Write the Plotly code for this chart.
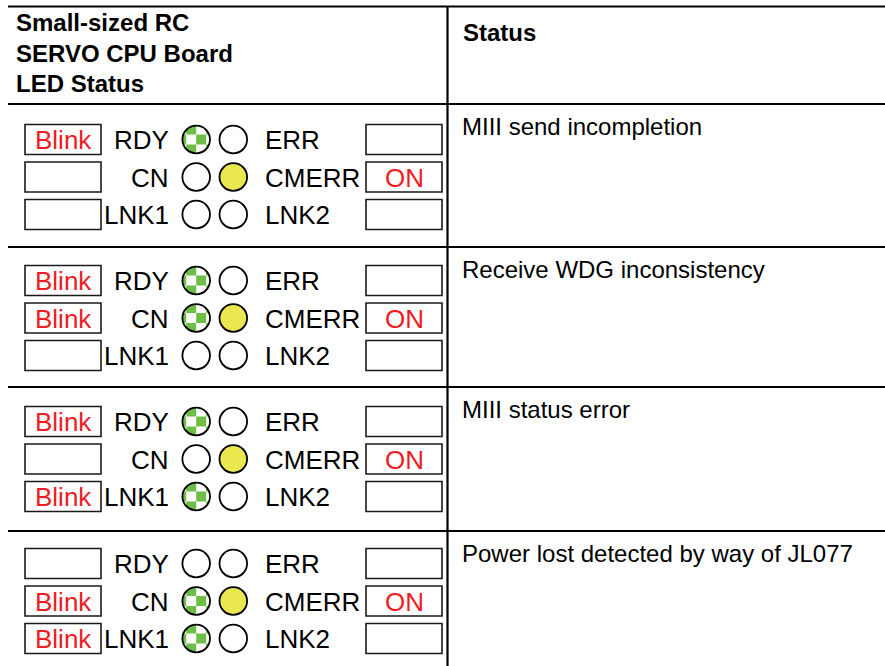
import math
import plotly.graph_objects as go

# ---------------- data ----------------
header_left = ["Small-sized RC", "SERVO CPU Board", "LED Status"]
header_right = "Status"
status_texts = [
    "MIII send incompletion",
    "Receive WDG inconsistency",
    "MIII status error",
    "Power lost detected by way of JL077",
]
left_labels = ["RDY", "CN", "LNK1"]
right_labels = ["ERR", "CMERR", "LNK2"]
left_states = [
    ["Blink", "", ""],
    ["Blink", "Blink", ""],
    ["Blink", "", "Blink"],
    ["", "Blink", "Blink"],
]
right_states = [
    ["", "ON", ""],
    ["", "ON", ""],
    ["", "ON", ""],
    ["", "ON", ""],
]

# ---------------- layout constants ----------------
W, H = 885, 666
FONT = "Liberation Sans, Arial, Helvetica, sans-serif"
GREEN = "#6dbe45"
YELLOW = "#ebe74f"
RED = "#ee1c25"
BLACK = "#000000"

TABLE_X0, TABLE_X1 = 8, 885
COL_SPLIT = 447.5
TOP_Y = 6.5
section_tops = [104, 247, 387, 531]
led_first_y = [139.5, 280.5, 421.5, 563.5]
LED_STEP = 37.5
LBOX = (25, 101)
RBOX = (366, 442)
BOX_H = 30
LED_LX, LED_RX = 196.2, 233.3
LED_R = 13.8
LABEL_RIGHT_END = 171
LABEL_LEFT_START = 263
CELL = 10
HEAD_SIZE = 24
STATUS_SIZE = 24
LED_SIZE = 26

fig = go.Figure()
fig.add_trace(go.Scatter(x=[0, W], y=[0, H], mode="markers",
                         marker=dict(opacity=0), hoverinfo="skip", showlegend=False))

shapes = []
annotations = []


def line(x0, y0, x1, y1, w=2.2):
    shapes.append(dict(type="line", xref="x", yref="y", x0=x0, y0=y0, x1=x1, y1=y1,
                       line=dict(color=BLACK, width=w)))


def text(x, y, s, size, color=BLACK, xanchor="left", bold=False):
    if bold:
        s = "<b>" + s + "</b>"
    annotations.append(dict(x=x, y=y, xref="x", yref="y", text=s, showarrow=False,
                            xanchor=xanchor, yanchor="middle",
                            font=dict(family=FONT, size=size, color=color)))


def clip(poly, axis, val, keep_greater):
    out = []
    n = len(poly)
    for i in range(n):
        cur, prev = poly[i], poly[i - 1]
        ic = cur[axis] >= val if keep_greater else cur[axis] <= val
        ip = prev[axis] >= val if keep_greater else prev[axis] <= val
        if ic != ip:
            t = (val - prev[axis]) / (cur[axis] - prev[axis])
            out.append((prev[0] + t * (cur[0] - prev[0]), prev[1] + t * (cur[1] - prev[1])))
        if ic:
            out.append(cur)
    return out


def checker(cx, cy, r):
    circ = [(cx + r * math.cos(2 * math.pi * i / 72), cy + r * math.sin(2 * math.pi * i / 72))
            for i in range(72)]
    for k in range(-2, 2):
        for j in range(-2, 3):
            if (k + j) % 2 != 0:
                continue
            x0, x1 = cx + k * CELL, cx + (k + 1) * CELL
            y0, y1 = cy - CELL / 2 + j * CELL, cy + CELL / 2 + j * CELL
            p = clip(circ, 0, x0, True)
            if p: p = clip(p, 0, x1, False)
            if p: p = clip(p, 1, y0, True)
            if p: p = clip(p, 1, y1, False)
            if len(p) >= 3:
                path = "M " + " L ".join(f"{a:.2f},{b:.2f}" for a, b in p) + " Z"
                shapes.append(dict(type="path", xref="x", yref="y", path=path,
                                   fillcolor=GREEN, line=dict(width=0)))


def led(cx, cy, state):
    fill = YELLOW if state == "ON" else "white"
    shapes.append(dict(type="circle", xref="x", yref="y", x0=cx - LED_R, x1=cx + LED_R,
                       y0=cy - LED_R, y1=cy + LED_R, fillcolor=fill, line=dict(width=0)))
    if state == "Blink":
        checker(cx, cy, LED_R)
    shapes.append(dict(type="circle", xref="x", yref="y", x0=cx - LED_R, x1=cx + LED_R,
                       y0=cy - LED_R, y1=cy + LED_R, fillcolor="rgba(0,0,0,0)",
                       line=dict(color=BLACK, width=1.8)))


def box(x0, x1, cy, label):
    shapes.append(dict(type="rect", xref="x", yref="y", x0=x0, x1=x1,
                       y0=cy - BOX_H / 2, y1=cy + BOX_H / 2, fillcolor="white",
                       line=dict(color="#1a1a1a", width=1.6)))
    if label:
        text((x0 + x1) / 2, cy + 0.5, label, LED_SIZE, RED, "center")


# table grid
line(TABLE_X0, TOP_Y, TABLE_X1, TOP_Y)
line(COL_SPLIT, TOP_Y, COL_SPLIT, H)
for t in section_tops:
    line(TABLE_X0, t, TABLE_X1, t)

# header
for i, s in enumerate(header_left):
    text(14, 22.5 + i * 30.5, s, HEAD_SIZE, bold=True)
text(461, 32.5, header_right, HEAD_SIZE, bold=True)

# sections
for si in range(len(status_texts)):
    text(460, section_tops[si] + 22, status_texts[si], STATUS_SIZE)
    for r in range(3):
        cy = led_first_y[si] + r * LED_STEP
        ls = left_states[si][r]
        rs = right_states[si][r]
        box(LBOX[0], LBOX[1], cy, ls)
        box(RBOX[0], RBOX[1], cy, rs)
        text(LABEL_RIGHT_END, cy + 0.5, left_labels[r], LED_SIZE, xanchor="right")
        text(LABEL_LEFT_START, cy + 0.5, right_labels[r], LED_SIZE, xanchor="left")
        led(LED_LX, cy, ls)
        led(LED_RX, cy, rs)

fig.update_layout(
    width=W, height=H, margin=dict(l=0, r=0, t=0, b=0),
    paper_bgcolor="white", plot_bgcolor="white",
    xaxis=dict(range=[0, W], visible=False, fixedrange=True),
    yaxis=dict(range=[H, 0], visible=False, fixedrange=True),
    shapes=shapes, annotations=annotations, showlegend=False,
)

fig.write_html("out.html", config={"displayModeBar": False},
               post_script="document.body.style.margin='0';document.body.style.overflow='hidden';")
